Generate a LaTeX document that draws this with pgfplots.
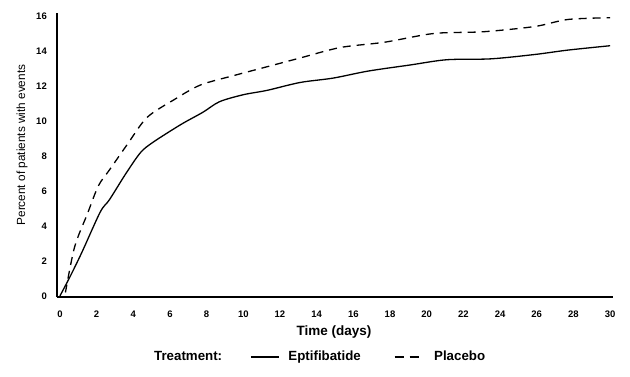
\documentclass[border=0pt]{standalone}
\usepackage{pgfplots}
\pgfplotsset{compat=1.18}
\usepackage{fontspec}
\setmainfont{Liberation Sans}
\pgfplotsset{
  solidlegend/.style={legend image code/.code={\draw[##1] (0pt,0pt) -- (28pt,0pt);}},
  dashlegend/.style={legend image code/.code={\draw[##1, dash pattern=on 9pt off 6pt] (0pt,0pt) -- (25pt,0pt);}},
}
\begin{document}
\begin{tikzpicture}
\useasboundingbox (0pt,0pt) rectangle (630pt,376pt);
\begin{axis}[
  at={(57pt,79pt)}, anchor=south west,
  scale only axis, width=556pt, height=284pt,
  xmin=-0.16, xmax=30.16, ymin=-0.06, ymax=16.17,
  axis lines*=left,
  axis line style={line width=1.4pt},
  xtick={0,2,...,30}, ytick={0,2,...,16},
  major tick length=0pt,
  /pgf/number format/assume math mode=true,
  tick label style={font=\bfseries\fontsize{9.5}{10}\selectfont, inner sep=0pt},
  xticklabel style={anchor=center, yshift=-17pt},
  yticklabel style={anchor=east, xshift=-10pt},
  xlabel={Time (days)},
  ylabel={Percent of patients with events},
  xlabel style={at={(axis description cs:0.498,-0.123)}, anchor=center, font=\bfseries\fontsize{13.5}{14}\selectfont},
  ylabel style={at={(axis description cs:-0.063,0.535)}, anchor=center, rotate=0, font=\fontsize{11.8}{13}\selectfont},
  legend columns=3,
  legend style={at={(axis description cs:0.169,-0.211)}, anchor=west, draw=none, fill=none,
    font=\bfseries\fontsize{13.3}{14}\selectfont,
    nodes={inner sep=0pt, anchor=west},
    /tikz/column 2/.style={column sep=28pt},
    /tikz/column 3/.style={column sep=9pt},
    /tikz/column 4/.style={column sep=33pt},
    /tikz/column 5/.style={column sep=14pt}},
]
\addlegendimage{empty legend}
\addlegendentry{Treatment:}
\addplot[black, line width=1.3pt, smooth, tension=0.5, solidlegend] coordinates {
 (0,0) (0.55,1.1) (1.2,2.5) (2.2,4.8) (2.7,5.5) (3.6,7.0) (4.4,8.2) (5.1,8.8)
 (6.6,9.8) (7.8,10.5) (8.7,11.1) (10,11.5) (11.3,11.75) (13.1,12.2) (14.9,12.45)
 (16.8,12.85) (19.1,13.2) (21.1,13.5) (23.5,13.55) (25.9,13.8) (27.7,14.05) (30,14.3)
};
\addlegendentry{Eptifibatide}
\addplot[black, line width=1.3pt, dash pattern=on 8pt off 6pt, smooth, tension=0.5, dashlegend] coordinates {
 (0.3,0.2) (0.8,2.8) (1.5,4.7) (2.1,6.3) (2.7,7.2) (3.7,8.7) (4.75,10.2) (6.2,11.2)
 (7.65,12.05) (9.5,12.6) (11.3,13.1) (13.1,13.6) (15.3,14.2) (17.7,14.5) (20.4,15.0)
 (23.1,15.1) (25.9,15.4) (27.7,15.8) (30,15.9)
};
\addlegendentry{Placebo}
\end{axis}
\end{tikzpicture}
\end{document}
